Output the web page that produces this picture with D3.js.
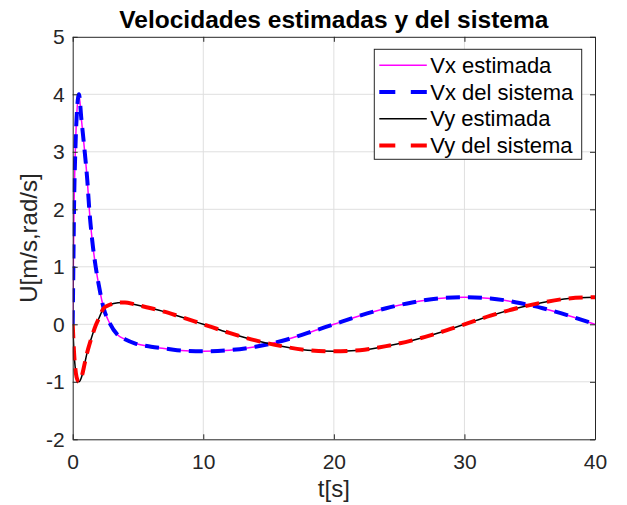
<!DOCTYPE html>
<html><head><meta charset="utf-8">
<script src="https://cdn.jsdelivr.net/npm/d3@7"></script>
<style>
body{margin:0;background:#fff;}
svg{display:block;font-family:"Liberation Sans",Arial,Helvetica,sans-serif;}
</style></head>
<body><svg id="c" width="627" height="505"></svg>
<script>
// ---- data ----
const tVals = [0,0.05,0.1,0.2,0.3,0.48,0.66,0.92,1.12,1.27,1.5,1.76,2.0,2.37,2.83,3.47,4.0,4.75,6,7,8,10,12,14,16,18,20,22,24,26,28,30,32,34,36,38,40];
const vxEstimada = [0,1.0,2.0,3.0,3.6,4.0,3.58,3.0,2.5,2.0,1.45,1.0,0.68,0.28,0.02,-0.19,-0.26,-0.33,-0.39,-0.42,-0.45,-0.47,-0.45,-0.39,-0.29,-0.15,0.0,0.15,0.28,0.38,0.45,0.47,0.45,0.38,0.28,0.15,0.0];
const vxSistema  = [0,1.0,2.0,3.0,3.6,4.0,3.58,3.0,2.5,2.0,1.45,1.0,0.68,0.28,0.02,-0.19,-0.26,-0.33,-0.39,-0.42,-0.45,-0.47,-0.45,-0.39,-0.29,-0.15,0.0,0.15,0.28,0.38,0.45,0.47,0.45,0.38,0.28,0.15,0.0];
const vyEstimada = [0,-0.25,-0.48,-0.77,-0.92,-1.0,-0.93,-0.68,-0.48,-0.36,-0.19,-0.02,0.1,0.28,0.34,0.375,0.38,0.345,0.28,0.22,0.15,0.0,-0.15,-0.28,-0.38,-0.45,-0.47,-0.45,-0.38,-0.28,-0.15,0.0,0.15,0.28,0.38,0.45,0.47];
const vySistema  = [0,-0.25,-0.48,-0.77,-0.92,-1.0,-0.93,-0.68,-0.48,-0.36,-0.19,-0.02,0.1,0.28,0.34,0.375,0.38,0.345,0.28,0.22,0.15,0.0,-0.15,-0.28,-0.38,-0.45,-0.47,-0.45,-0.38,-0.28,-0.15,0.0,0.15,0.28,0.38,0.45,0.47];
const xTicks = [0,10,20,30,40];
const yTicks = [-2,-1,0,1,2,3,4,5];
const seriesNames = ["Vx estimada","Vx del sistema","Vy estimada","Vy del sistema"];
const titleText = "Velocidades estimadas y del sistema";
const xLabel = "t[s]";
const yLabel = "U[m/s,rad/s]";

// ---- layout ----
const L = 72.7, R = 595, T = 36.8, B = 439.3;
const svg = d3.select("#c");
const x = d3.scaleLinear().domain([0,40]).range([L,R]);
const y = d3.scaleLinear().domain([-2,5]).range([B,T]);
const axisCol = "#262626";
const fmt = d => String(d);

// grid
const g = svg.append("g");
g.selectAll(".gx").data(xTicks.slice(1,-1)).join("line")
  .attr("x1",d=>x(d)).attr("x2",d=>x(d)).attr("y1",T).attr("y2",B)
  .attr("stroke","#dfdfdf").attr("stroke-width",1);
g.selectAll(".gy").data(yTicks.slice(1,-1)).join("line")
  .attr("y1",d=>y(d)).attr("y2",d=>y(d)).attr("x1",L).attr("x2",R)
  .attr("stroke","#dfdfdf").attr("stroke-width",1);

// lines
const mk = vals => tVals.map((t,i)=>[t,vals[i]]);
const line = d3.line().x(d=>x(d[0])).y(d=>y(d[1])).curve(d3.curveMonotoneX);
svg.append("clipPath").attr("id","pc").append("rect").attr("x",L).attr("y",T).attr("width",R-L).attr("height",B-T);
const lg = svg.append("g").attr("clip-path","url(#pc)");
const styles = [
  {c:"#ff00ff", w:1.5, dash:null, v:vxEstimada},
  {c:"#0000ff", w:4, dash:"14,8", v:vxSistema},
  {c:"#000000", w:1.5, dash:null, v:vyEstimada},
  {c:"#ff0000", w:4, dash:"14,8", v:vySistema}
];
styles.forEach(s=>{
  lg.append("path").attr("d",line(mk(s.v))).attr("fill","none")
    .attr("stroke",s.c).attr("stroke-width",s.w)
    .attr("stroke-dasharray",s.dash).attr("stroke-linejoin","round");
});

// axes (box with inward ticks)
const tl = 5;
const styleAxis = a => {
  a.select(".domain").attr("stroke",axisCol);
  a.selectAll("line").attr("stroke",axisCol);
  a.selectAll("text").attr("fill",axisCol).attr("font-size","21px").attr("font-family","Liberation Sans, Arial");
};
svg.append("g").attr("transform",`translate(0,${B})`)
  .call(d3.axisBottom(x).tickValues(xTicks).tickSize(-tl).tickPadding(15).tickSizeOuter(0).tickFormat(fmt))
  .call(styleAxis);
svg.append("g").attr("transform",`translate(0,${T})`)
  .call(d3.axisTop(x).tickValues(xTicks).tickSize(-tl).tickFormat("").tickSizeOuter(0))
  .call(styleAxis);
svg.append("g").attr("transform",`translate(${L},0)`)
  .call(d3.axisLeft(y).tickValues(yTicks).tickSize(-tl).tickPadding(8).tickSizeOuter(0).tickFormat(fmt))
  .call(styleAxis);
svg.append("g").attr("transform",`translate(${R},0)`)
  .call(d3.axisRight(y).tickValues(yTicks).tickSize(-tl).tickFormat("").tickSizeOuter(0))
  .call(styleAxis);

// labels
svg.append("text").attr("x",(L+R)/2).attr("y",28).attr("text-anchor","middle")
  .attr("font-size","24.5px").attr("font-weight","bold").attr("fill","#000").text(titleText);
svg.append("text").attr("x",(L+R)/2).attr("y",497).attr("text-anchor","middle")
  .attr("font-size","24px").attr("fill",axisCol).text(xLabel);
svg.append("text").attr("transform",`translate(37,${(T+B)/2}) rotate(-90)`).attr("text-anchor","middle")
  .attr("font-size","24px").attr("fill",axisCol).text(yLabel);

// legend
const lgX = 374.3, lgY = 49.3, lgW = 207.4, lgH = 110;
const leg = svg.append("g");
leg.append("rect").attr("x",lgX).attr("y",lgY).attr("width",lgW).attr("height",lgH)
  .attr("fill","#fff").attr("stroke",axisCol).attr("stroke-width",1);
seriesNames.forEach((n,i)=>{
  const yy = lgY + 16 + i*26.7;
  const s = styles[i];
  leg.append("line").attr("x1",lgX+5).attr("x2",lgX+52.5).attr("y1",yy).attr("y2",yy)
    .attr("stroke",s.c).attr("stroke-width",s.w).attr("stroke-dasharray",s.dash?"16,15.5":null);
  leg.append("text").attr("x",lgX+56).attr("y",yy+7.7).attr("font-size","22px").attr("fill","#000").text(n);
});
</script></body></html>
